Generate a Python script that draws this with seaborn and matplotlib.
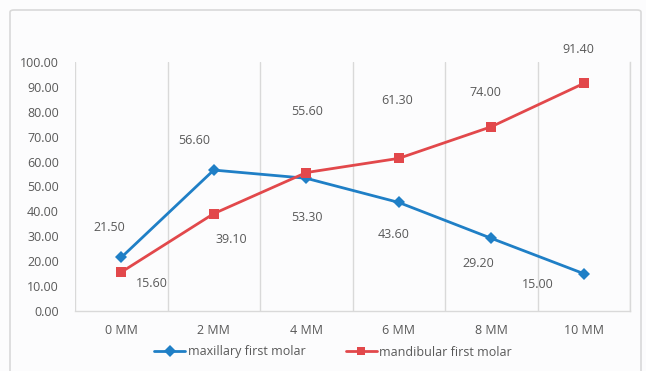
import matplotlib
matplotlib.use("Agg")
import matplotlib.pyplot as plt
from matplotlib.patches import FancyBboxPatch
import seaborn as sns
import pandas as pd

# Data
distances = ["0 MM", "2 MM", "4 MM", "6 MM", "8 MM", "10 MM"]
maxillary = [21.50, 56.60, 53.30, 43.60, 29.20, 15.00]
mandibular = [15.60, 39.10, 55.60, 61.30, 74.00, 91.40]
series_names = ["maxillary first molar", "mandibular first molar"]

# Label offsets (pixels) for each value label
max_offsets = [(-12, 30), (-20, 30), (1, -39), (-5, -32), (-13, -25), (-46, -11)]
mand_offsets = [(31, -11), (18, -26), (1, 61), (-2, 58), (-6, 34), (-5, 34)]

df = pd.DataFrame({
    "pos": list(range(len(distances))) * 2,
    "value": maxillary + mandibular,
    "series": [series_names[0]] * len(distances) + [series_names[1]] * len(distances),
})

sns.set_theme(style="white")
plt.rcParams["font.family"] = ["Open Sans", "DejaVu Sans"]

BLUE = "#1f7fc6"
RED = "#e2484b"
TEXT = "#595959"
GRID = "#d9d9d9"
BG = "#fcfcfd"
FS = 9

fig = plt.figure(figsize=(6.46, 3.71), dpi=100, facecolor=BG)
ax = fig.add_axes([75 / 646, 1 - 311 / 371, (630 - 75) / 646, (311 - 62) / 371])
ax.set_facecolor(BG)

# Outer chart frame
frame = FancyBboxPatch((10 / 646, -0.05), (641 - 10) / 646, 1.05 - 10 / 371,
                       boxstyle="round,pad=0,rounding_size=0.006",
                       transform=fig.transFigure, facecolor="none",
                       edgecolor=GRID, linewidth=1.2, zorder=0)
fig.patches.append(frame)

sns.lineplot(data=df, x="pos", y="value", hue="series", style="series",
             palette={series_names[0]: BLUE, series_names[1]: RED},
             markers={series_names[0]: "D", series_names[1]: "s"},
             dashes=False, linewidth=2, ax=ax,
             markeredgewidth=0, legend=True)

lines = ax.get_lines()
for ln in lines[:1]:
    ln.set_markersize(6.5)
for ln in lines[1:2]:
    ln.set_markersize(7.5)

ax.set_xlim(-0.5, len(distances) - 0.5)
ax.set_ylim(0, 100)
ax.set_yticks(range(0, 101, 10))
ax.set_yticklabels([f"{v:.2f}" for v in range(0, 101, 10)])
ax.set_xticks(range(len(distances)))
ax.set_xticklabels(distances)
ax.set_xlabel("")
ax.set_ylabel("")
ax.tick_params(axis="both", length=0, colors=TEXT, labelsize=FS)
ax.tick_params(axis="y", pad=11.5)
ax.tick_params(axis="x", pad=9)

# Vertical separators between categories
for b in [i - 0.5 for i in range(len(distances) + 1)]:
    ax.axvline(b, color=GRID, linewidth=1, zorder=0)

for side in ["top", "left"]:
    ax.spines[side].set_visible(False)
for side in ["right", "bottom"]:
    ax.spines[side].set_color(GRID)
    ax.spines[side].set_linewidth(1)

# Value labels
for vals, offs in [(maxillary, max_offsets), (mandibular, mand_offsets)]:
    for i, (v, (dx, dy)) in enumerate(zip(vals, offs)):
        ax.annotate(f"{v:.2f}", (i, v), xytext=(dx, dy), textcoords="offset pixels",
                    ha="center", va="center", color=TEXT, fontsize=FS)

handles, labels = ax.get_legend_handles_labels()
ax.legend(handles, labels, loc="center", bbox_to_anchor=(333 / 646, 1 - 352 / 371),
          bbox_transform=fig.transFigure, ncol=2, frameon=False, fontsize=FS,
          handlelength=2.5, columnspacing=3.2, handletextpad=0.2, labelcolor=TEXT)

fig.savefig("out.png", dpi=100, facecolor=BG)
